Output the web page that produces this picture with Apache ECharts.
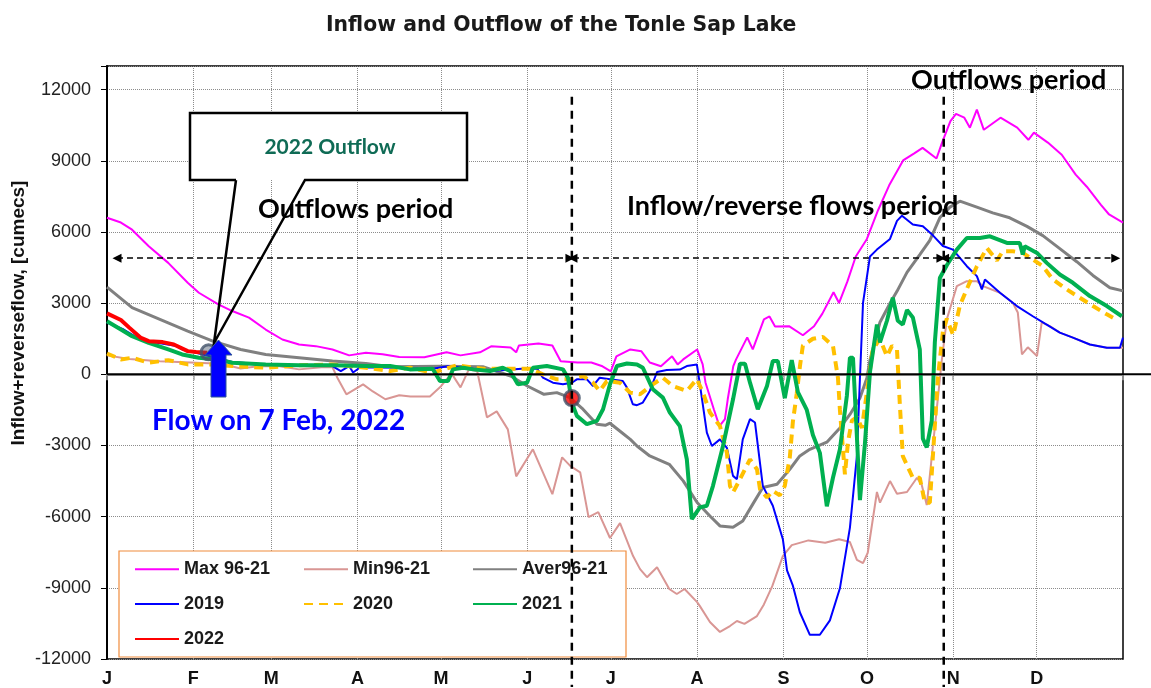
<!DOCTYPE html>
<html>
<head>
<meta charset="utf-8">
<title>Inflow and Outflow of the Tonle Sap Lake</title>
<script src="https://cdn.jsdelivr.net/npm/echarts@6/dist/echarts.min.js"></script>
<style>
  html, body { margin: 0; padding: 0; background: #fff; }
  #chart { width: 1151px; height: 688px; }
</style>
</head>
<body>
<div id="chart"></div>
<script>
// month ticks (day of year where each month starts)
const monthLetters = ['J', 'F', 'M', 'A', 'M', 'J', 'J', 'A', 'S', 'O', 'N', 'D'];
const monthStarts = [0, 31, 59, 90, 120, 151, 181, 212, 243, 273, 304, 334];
const yearDays = 365;

// [day of year, flow in cumecs]
const maxSeries = [[0,6600],[5,6400],[9,6100],[15,5400],[22,4700],[29,3860],[33,3440],[40,2950],[45,2670],[51,2390],[57,1890],[63,1470],[69,1260],[75,1190],[81,1050],[87,800],[93,910],[99,850],[105,730],[114,720],[122,930],[127,800],[134,930],[138,1180],[145,1130],[147,930],[148,1220],[155,1300],[160,1220],[163,550],[169,500],[174,500],[178,340],[181,130],[183,760],[188,1050],[192,970],[195,500],[199,340],[203,760],[205,420],[207,630],[212,1050],[214,420],[215,-340],[218,-1470],[220,-2180],[222,-1890],[223,-1050],[225,350],[226,630],[230,1560],[232,1050],[236,2320],[238,2440],[240,2020],[245,2030],[250,1650],[254,2030],[257,2560],[261,3460],[263,3010],[266,3920],[269,4970],[273,5710],[277,6920],[281,7970],[286,9020],[290,9320],[293,9550],[298,9100],[300,9770],[303,10680],[305,10980],[308,10820],[310,10400],[312.5,11160],[315,10310],[321,10820],[327,10400],[331,9890],[333,10190],[338,9770],[343,9260],[348,8420],[352,7910],[357,7160],[360,6740],[365,6400]];

const minSeries = [[0,800],[8,650],[19,550],[30,500],[41,450],[48,250],[55,350],[62,340],[69,210],[77,300],[81,300],[83,-200],[86,-840],[92,-420],[95.5,-720],[100,-1050],[105,-880],[109,-930],[116,-930],[120,-500],[122,-210],[124,0],[127,-550],[130,210],[133,130],[136.5,-1810],[140,-1560],[144,-2320],[147,-4300],[153,-3160],[160,-5050],[163.5,-3500],[166.5,-3870],[170,-4130],[173,-6020],[176.5,-5810],[180.7,-6900],[184.3,-6270],[189,-7660],[191.5,-8210],[194,-8550],[197.6,-8130],[202,-9050],[204.7,-9260],[207.5,-9050],[212,-9600],[213,-9770],[216.6,-10440],[220.2,-10860],[223.8,-10610],[226.3,-10400],[229,-10520],[233.5,-10190],[236,-9700],[239,-8930],[242.8,-7660],[246,-7200],[252,-7000],[258,-7100],[263,-6950],[266.9,-7070],[269.4,-7820],[271.6,-7960],[273.3,-7520],[276.6,-4960],[277.7,-5410],[281.3,-4500],[283.8,-5030],[287.4,-4960],[291,-4360],[292.7,-4660],[294.5,-5510],[296.7,-3020],[298.5,-1000],[300,700],[301.7,2320],[305.3,3720],[308.9,3930],[312.5,3930],[314.7,3720],[320.8,3440],[325.4,3020],[327.2,2610],[328.7,840],[330.8,1140],[334.1,770],[335.8,2190],[338.7,2030],[342.3,1760],[347,1550],[353.1,1260],[359.2,1120],[365,1120]];

const averSeries = [[0,3680],[9,2810],[19,2320],[29,1820],[38,1400],[48,1050],[57,840],[69,700],[81,560],[93,460],[102,320],[120,340],[135,320],[145,-70],[151,-490],[157,-840],[161.6,-770],[166.3,-980],[171,-1470],[176,-2100],[179,-2150],[180.7,-2060],[185,-2460],[188,-2740],[190.4,-3020],[195,-3440],[202,-3790],[207,-4490],[212,-5400],[216.6,-5970],[220.2,-6390],[224.9,-6450],[228.4,-6180],[232,-5470],[235.6,-4770],[240.7,-4630],[245.3,-4000],[248.9,-3440],[252.5,-3160],[258.6,-2860],[263.3,-2260],[266.9,-1690],[270.5,-1000],[273,-150],[274.1,600],[277.7,2200],[281.3,3000],[283.8,3500],[287.4,4300],[292,5050],[295.6,5650],[299.2,6600],[302.8,7050],[306.4,7300],[312.5,7050],[318.2,6810],[324.3,6600],[330.5,6240],[336.2,5850],[342.3,5300],[348.4,4750],[354.2,4170],[360.3,3650],[365,3520]];

const y2019 = [[0,2180],[6,1890],[12,1470],[18,1330],[25,1190],[27,1050],[32,910],[45,520],[57,420],[81,350],[84,140],[87,350],[88.4,80],[91,300],[105,280],[108,240],[117,240],[123,350],[138,140],[149,240],[154.5,240],[156.6,-140],[160.2,-350],[163.8,-420],[167,-350],[168.8,-210],[172.4,-210],[174.6,-490],[177,-140],[180.7,-210],[185.3,-280],[186.8,-560],[188.9,-1260],[190.4,-1300],[192.5,-1190],[195,-700],[197.6,100],[201.1,180],[205.8,200],[208.3,350],[211.9,420],[213,-420],[215.5,-2460],[217.3,-3020],[220.2,-2740],[222.7,-3100],[224.9,-4280],[226.3,-4420],[228.4,-2740],[231,-1890],[232.8,-2030],[235.6,-4700],[239.2,-5540],[242.8,-6950],[244.3,-8260],[246.4,-8910],[248.9,-10030],[252.5,-10980],[256.1,-10980],[259.7,-10370],[263.3,-9020],[266.9,-6460],[269.4,-3450],[270.5,-150],[271.6,3010],[274.1,4970],[276.6,5260],[281.3,5710],[283.8,6470],[285.6,6690],[289.5,6320],[293.1,6240],[296.7,5860],[300.3,5410],[303.9,5260],[308.9,4560],[312.5,4140],[314.3,3580],[315.4,4000],[320.8,3440],[326.9,2880],[332.6,2450],[337.6,2100],[342.3,1760],[347,1550],[353.1,1260],[359.2,1120],[363.9,1120],[365,1550]];

const y2020 = [[0,880],[5,630],[9,700],[15,490],[22,600],[29,420],[37,420],[45,350],[57,280],[69,380],[81,420],[93,280],[101.7,140],[108.8,280],[117,70],[125.7,380],[135,240],[152,240],[156.6,0],[161.6,-210],[166.3,-210],[171,-70],[174.6,-350],[177,-700],[179.6,-280],[184.3,-350],[187.9,-770],[191.5,-840],[196.1,-420],[199.7,-140],[203.3,-490],[208.3,-700],[211.9,-200],[214.1,-770],[216.6,-1610],[220.2,-2180],[222.7,-3300],[223.8,-4700],[224.9,-4980],[227.4,-4420],[231,-3580],[233.5,-4000],[234.6,-4840],[237.1,-5190],[239.2,-4910],[241.7,-5100],[243.5,-4700],[245.3,-3500],[246.4,-2000],[247.8,-800],[249,400],[250,1220],[253.6,1500],[257.2,1580],[260.8,1200],[262.6,-150],[263.3,-1500],[265.1,-4210],[266.2,-2860],[267.6,-1950],[269.4,-1800],[271.2,-2260],[273,-750],[275.1,1050],[277.7,1500],[280.2,760],[282,1200],[283.8,1050],[284.8,-1200],[285.9,-3450],[289.5,-4360],[292,-4360],[293.8,-5410],[295.6,-5410],[296.7,-3450],[298.5,-150],[300.3,1800],[301.7,2350],[304,1650],[306.4,2900],[308.9,3600],[312.5,4560],[316.1,5330],[319.7,4800],[321.8,5190],[325.4,5190],[329,5120],[332.6,4840],[336.2,4560],[339.8,4000],[344.8,3580],[349.5,3230],[354.2,2880],[359.2,2530],[361.4,2390]];

const y2021 = [[0,2240],[5,1890],[9,1610],[15,1330],[22,1050],[27,840],[33,700],[39.5,630],[45,490],[57,420],[69,380],[81,380],[93,350],[101.7,350],[108.8,210],[117,240],[119.6,-280],[122.5,-280],[124.3,210],[128,280],[131.5,210],[137.6,140],[142.2,280],[144.8,140],[147.6,-420],[150.9,-350],[153,280],[158,350],[163.8,210],[165.6,-140],[167,-1190],[168.8,-1750],[172.4,-2100],[176,-1960],[178.2,-1470],[180.7,-420],[183.2,350],[186.8,460],[190.4,420],[192.5,280],[196.1,-630],[199.7,-980],[202.2,-1610],[205.8,-2180],[208.3,-3580],[210.1,-6100],[213,-5610],[215.5,-5540],[217.7,-4700],[221.3,-3020],[224.9,-1050],[227.4,450],[229.2,450],[231,-350],[233.8,-1470],[237.1,-490],[239.2,560],[241,560],[243.5,-1000],[246,600],[248.2,-750],[251.4,-1500],[253.6,-2560],[256.1,-3310],[258.6,-5560],[260.8,-4360],[263.3,-3160],[265.8,-900],[266.9,700],[268,700],[269,-1650],[270.5,-5300],[272.3,-2900],[274.1,100],[276.6,2100],[277.7,1350],[280.2,2260],[282.3,3230],[284.1,2260],[285.9,2100],[287.4,2710],[289.5,2400],[292,1050],[293.1,-2710],[294.5,-3080],[296.3,-1950],[297.4,1350],[299.2,4060],[301.7,4600],[305.3,5260],[308.9,5750],[313.6,5750],[317.2,5820],[323.3,5540],[327.9,5540],[329,5050],[329.7,5400],[334.1,5120],[337.6,4700],[342.3,4210],[347,3860],[353.1,3300],[359.2,2880],[364.6,2450]];

const y2022 = [[0,2570],[5,2290],[8,1970],[12,1550],[15,1400],[20,1360],[24,1260],[29,980],[32,940],[36,910]];

// highlighted points: flow on 7 Feb 2022, start of the reverse flow
const markedPoints = [[36.5, 930], [167, -1000]];

// period boundaries (day of year) and the level of the period arrows
const periodDays = [167, 300.6];
const arrowLevel = 4900;
const arrowSpans = [[3.6, 166.3], [167.4, 299.6], [300.9, 362.4]];

const FONT = 'Liberation Sans, Arial, sans-serif';
const CAL = 'Lato, Carlito, Calibri, sans-serif';

const dayIdx = [];
for (let d = 0; d <= yearDays; d++) dayIdx.push(String(d));
const startSet = new Set(monthStarts);

const lineDefs = [
  { name: 'Max 96-21', data: maxSeries, color: '#ff00ff', width: 2 },
  { name: 'Min96-21', data: minSeries, color: '#d99694', width: 2 },
  { name: 'Aver96-21', data: averSeries, color: '#808080', width: 3 },
  { name: '2019', data: y2019, color: '#0000ff', width: 2 },
  { name: '2020', data: y2020, color: '#ffc000', width: 4, type: [9, 6] },
  { name: '2021', data: y2021, color: '#00b050', width: 4 },
  { name: '2022', data: y2022, color: '#ff0000', width: 4 }
];

// legend columns as in the original box
const legendColumns = [
  { left: 134, names: ['Max 96-21', '2019', '2022'] },
  { left: 303, names: ['Min96-21', '2020'] },
  { left: 472, names: ['Aver96-21', '2021'] }
];

const chart = echarts.init(document.getElementById('chart'));

const option = {
  animation: false,
  backgroundColor: '#fff',
  textStyle: { fontFamily: FONT },
  title: {
    text: 'Inflow and Outflow of the Tonle Sap Lake',
    left: 326,
    top: 16,
    padding: 0,
    textStyle: { fontFamily: 'DejaVu Sans', fontWeight: 'bold', fontSize: 20.4, color: '#1a1a1a' }
  },
  grid: { left: 107, right: 28, top: 66, bottom: 28, show: true, borderColor: '#000', borderWidth: 1.5 },
  legend: legendColumns.map(c => ({
    data: c.names,
    orient: 'vertical',
    left: c.left,
    top: 560,
    itemWidth: 44,
    itemHeight: 23,
    itemGap: 16.5,
    padding: 0,
    z: 6,
    itemStyle: { color: 'rgba(0,0,0,0)', borderWidth: 0, opacity: 0 },
    textStyle: { fontFamily: FONT, fontWeight: 'bold', fontSize: 18, color: '#1a1a1a' }
  })),
  xAxis: [
    {
      type: 'category',
      data: dayIdx,
      boundaryGap: false,
      axisLine: { lineStyle: { color: '#a6a6a6', width: 2 } },
      axisTick: {
        interval: i => startSet.has(i) || i === yearDays,
        length: 6,
        lineStyle: { color: '#a6a6a6', width: 1.5 }
      },
      axisLabel: {
        interval: i => startSet.has(i),
        formatter: v => monthLetters[monthStarts.indexOf(Number(v))] || '',
        margin: 11,
        fontSize: 18,
        fontWeight: 'bold',
        color: '#111'
      },
      splitLine: {
        show: true,
        interval: i => startSet.has(i) && i > 0,
        lineStyle: { type: 'dotted', color: '#8c8c8c', width: 1 }
      }
    },
    { type: 'value', min: 0, max: yearDays, show: false }
  ],
  yAxis: {
    type: 'value',
    min: -12000,
    max: 13000,
    interval: 3000,
    axisLine: { show: true, lineStyle: { color: '#000', width: 2 } },
    axisTick: { show: true, length: 6, lineStyle: { color: '#000' } },
    axisLabel: {
      margin: 16,
      fontSize: 18,
      color: '#222',
      formatter: v => (v > 12000 ? '' : String(v))
    },
    splitLine: { lineStyle: { type: 'dotted', color: '#8c8c8c', width: 1 } }
  },
  series: lineDefs.map((s, i) => ({
    name: s.name,
    type: 'line',
    xAxisIndex: 1,
    data: s.data,
    symbol: 'none',
    z: 2 + i * 0.1,
    lineStyle: { color: s.color, width: s.width, type: s.type || 'solid' },
    itemStyle: { color: s.color }
  })).concat([{
    name: 'marks',
    type: 'scatter',
    xAxisIndex: 1,
    data: [
      { value: markedPoints[0], itemStyle: { color: 'rgba(68,84,106,0.55)' } },
      { value: markedPoints[1] }
    ],
    symbolSize: 15,
    z: 5,
    itemStyle: { color: '#ff0000', borderColor: '#44546a', borderWidth: 3 },
    markLine: {
      silent: true,
      symbol: ['triangle', 'triangle'],
      symbolSize: [9, 9],
      label: { show: false },
      lineStyle: { color: '#000', type: [6, 4], width: 1.5 },
      data: arrowSpans.map(s => [{ coord: [s[0], arrowLevel] }, { coord: [s[1], arrowLevel] }])
    }
  }])
};

chart.setOption(option);

// annotations drawn on top, anchored to the axes
const toPx = (d, v) => chart.convertToPixel({ xAxisIndex: 1, yAxisIndex: 0 }, [d, v]);
const origin = toPx(0, 0);
const graphics = [];

// zero line runs past the plot to the right edge
graphics.push({ type: 'line', z: 20, shape: { x1: origin[0], y1: origin[1], x2: 1151, y2: origin[1] }, style: { stroke: '#000', lineWidth: 2 } });

// period boundaries
periodDays.forEach(d => {
  const top = toPx(d, 11700);
  graphics.push({ type: 'line', z: 20, shape: { x1: top[0], y1: top[1], x2: top[0], y2: 687 }, style: { stroke: '#000', lineWidth: 2.5, lineDash: [8, 6] } });
});

// legend frame
graphics.push({ type: 'rect', z: 1, shape: { x: 119, y: 551, width: 507, height: 106 }, style: { fill: '#fff', stroke: '#f08c3c', lineWidth: 1.2 } });

// callout "2022 Outflow"
graphics.push({ type: 'rect', z: 21, shape: { x: 190, y: 113, width: 277, height: 67 }, style: { fill: '#fff' } });
graphics.push({
  type: 'polyline', z: 22,
  shape: { points: [[236, 180], [190, 180], [190, 113], [467, 113], [467, 180], [305, 180], [214, 343], [236, 180]] },
  style: { stroke: '#000', lineWidth: 2.5, fill: null }
});
graphics.push({ type: 'text', z: 23, x: 330, y: 147, style: { text: '2022 Outflow', font: 'bold 21px ' + CAL, fill: '#0f6b55', align: 'center', verticalAlign: 'middle' } });

// blue arrow pointing at the 7 Feb value
graphics.push({
  type: 'polygon', z: 24,
  shape: { points: [[211, 397], [226, 397], [226, 355], [232, 355], [218.5, 340], [205, 355], [211, 355]] },
  style: { fill: '#0000ff', stroke: '#2f5597', lineWidth: 1 }
});

// texts
const notes = [
  { text: 'Outflows period', x: 258, y: 209, size: 27, color: '#000' },
  { text: 'Inflow/reverse flows period', x: 627, y: 206, size: 27, color: '#000' },
  { text: 'Outflows period', x: 911, y: 80, size: 27, color: '#000' },
  { text: 'Flow on 7 Feb, 2022', x: 152, y: 421, size: 28, color: '#0000ff' }
];
notes.forEach(n => {
  graphics.push({ type: 'text', z: 25, x: n.x, y: n.y, style: { text: n.text, font: 'bold ' + n.size + 'px ' + CAL, fill: n.color, align: 'left', verticalAlign: 'middle' } });
});

// y axis title
graphics.push({
  type: 'text', z: 25, x: 19, y: 313, rotation: Math.PI / 2,
  style: { text: 'Inflow+reverseflow, [cumecs]', font: 'bold 19px ' + FONT, fill: '#111', align: 'center', verticalAlign: 'middle' }
});

chart.setOption({ graphic: graphics });
</script>
</body>
</html>
